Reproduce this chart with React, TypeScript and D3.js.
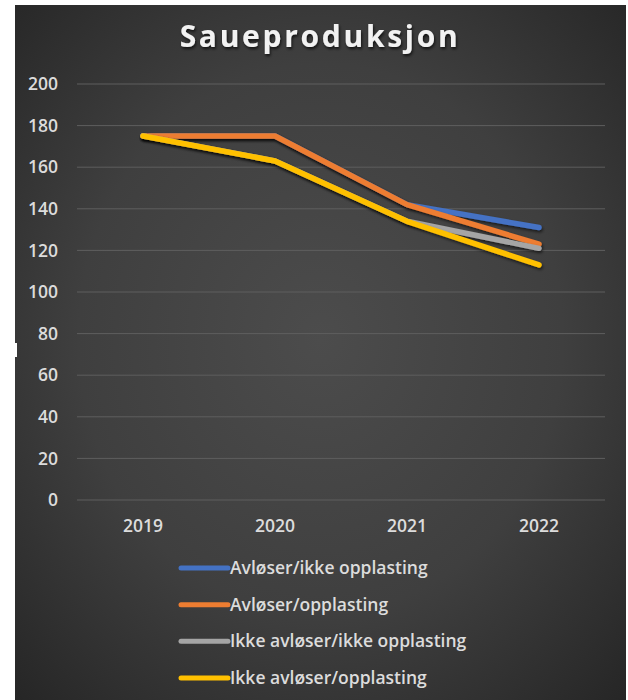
import React from "react";
import * as d3 from "d3";

const years = ["2019", "2020", "2021", "2022"];
const seriesNames = [
  "Avløser/ikke opplasting",
  "Avløser/opplasting",
  "Ikke avløser/ikke opplasting",
  "Ikke avløser/opplasting",
];
const avloserIkkeOpplasting = [175, 175, 142, 131];
const avloserOpplasting = [175, 175, 142, 123];
const ikkeAvloserIkkeOpplasting = [175, 163, 134, 121];
const ikkeAvloserOpplasting = [175, 163, 134, 113];
const seriesColors = ["#4472c4", "#ed7d31", "#a5a5a5", "#ffc000"];
const yTicks = [0, 20, 40, 60, 80, 100, 120, 140, 160, 180, 200];

const W = 628;
const H = 700;
const panel = { x: 15, y: 5, w: 611, h: 695 };
const plot = { left: 77, right: 605, top: 84, bottom: 500 };

export default function App() {
  const seriesValues = [
    avloserIkkeOpplasting,
    avloserOpplasting,
    ikkeAvloserIkkeOpplasting,
    ikkeAvloserOpplasting,
  ];
  const x = d3.scaleBand<string>().domain(years).range([plot.left, plot.right]);
  const y = d3.scaleLinear().domain([0, 200]).range([plot.bottom, plot.top]);
  const line = d3
    .line<number>()
    .x((_, i) => (x(years[i]) as number) + x.bandwidth() / 2)
    .y((d) => y(d));

  const font = "'Open Sans', sans-serif";
  const legendY = d3.scalePoint<string>().domain(seriesNames).range([568, 678]);

  return (
    <svg
      width={W}
      height={H}
      style={{ position: "absolute", left: 0, top: 0, display: "block" }}
    >
      <defs>
        <radialGradient id="bg" cx="50%" cy="48%" r="72%">
          <stop offset="0%" stopColor="#4c4c4c" />
          <stop offset="55%" stopColor="#3f3f3f" />
          <stop offset="100%" stopColor="#262626" />
        </radialGradient>
        <filter id="shadow" x="-10%" y="-20%" width="120%" height="140%">
          <feDropShadow dx="1" dy="2" stdDeviation="1.5" floodColor="#000" floodOpacity="0.6" />
        </filter>
        <filter id="tshadow" x="-10%" y="-30%" width="120%" height="160%">
          <feDropShadow dx="1" dy="2" stdDeviation="1.5" floodColor="#000" floodOpacity="0.7" />
        </filter>
      </defs>
      <rect x={0} y={0} width={W} height={H} fill="#ffffff" />
      <rect x={panel.x} y={panel.y} width={panel.w} height={panel.h} fill="url(#bg)" />
      <rect x={15} y={343} width={2} height={14} fill="#ffffff" />

      <text
        x={320}
        y={47}
        textAnchor="middle"
        fill="#f2f2f2"
        fontFamily={font}
        fontWeight={700}
        fontSize={30}
        letterSpacing={2.7}
        filter="url(#tshadow)"
      >
        Saueproduksjon
      </text>

      {yTicks.map((t) => (
        <g key={t}>
          <line
            x1={plot.left}
            x2={plot.right}
            y1={y(t)}
            y2={y(t)}
            stroke="#5e5e5e"
            strokeWidth={1}
          />
          <text
            x={58}
            y={y(t)}
            dy="0.35em"
            textAnchor="end"
            fill="#dcdcdc"
            fontFamily={font}
            fontWeight={600}
            fontSize={17.5}
          >
            {t}
          </text>
        </g>
      ))}

      {years.map((yr) => (
        <text
          key={yr}
          x={(x(yr) as number) + x.bandwidth() / 2}
          y={526}
          dy="0.35em"
          textAnchor="middle"
          fill="#dcdcdc"
          fontFamily={font}
          fontWeight={600}
          fontSize={17.5}
        >
          {yr}
        </text>
      ))}

      {seriesValues.map((vals, i) => (
        <path
          key={seriesNames[i]}
          d={line(vals) as string}
          fill="none"
          stroke={seriesColors[i]}
          strokeWidth={5.5}
          strokeLinecap="round"
          strokeLinejoin="round"
          filter="url(#shadow)"
        />
      ))}

      {seriesNames.map((name, i) => {
        const ly = legendY(name) as number;
        return (
          <g key={name}>
            <line
              x1={181}
              x2={228}
              y1={ly}
              y2={ly}
              stroke={seriesColors[i]}
              strokeWidth={5}
              strokeLinecap="round"
            />
            <text
              x={230}
              y={ly}
              dy="0.35em"
              fill="#dcdcdc"
              fontFamily={font}
              fontWeight={600}
              fontSize={17.5}
            >
              {name}
            </text>
          </g>
        );
      })}
    </svg>
  );
}
